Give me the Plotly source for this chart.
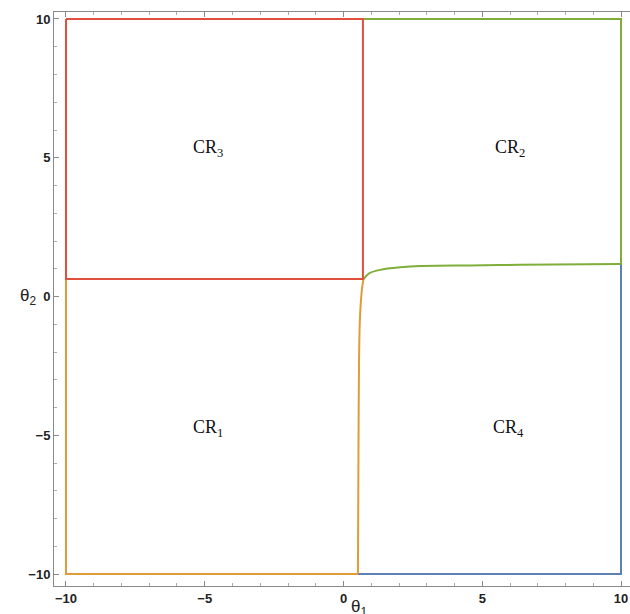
import plotly.graph_objects as go

# Region boundaries
red_x = [-10, 0.70, 0.70, -10, -10]
red_y = [10, 10, 0.63, 0.63, 10]

orange_box_x = [-10, -10, 0.52]
orange_box_y = [0.63, -10, -10]
orange_curve_x = [0.52, 0.54, 0.56, 0.59, 0.63, 0.67, 0.72]
orange_curve_y = [-10, -5.53, -2.29, -0.85, -0.13, 0.31, 0.63]

blue_x = [0.52, 10, 10]
blue_y = [-10, -10, 1.17]

green_box_x = [0.70, 10, 10]
green_box_y = [10, 10, 1.17]
green_curve_x = [0.72, 0.95, 1.32, 2.04, 2.76, 4.56, 6.36, 10]
green_curve_y = [0.63, 0.85, 0.96, 1.05, 1.10, 1.12, 1.14, 1.17]

label_text = ["CR<sub>3</sub>", "CR<sub>2</sub>", "CR<sub>1</sub>", "CR<sub>4</sub>"]
label_x = [-4.88, 6.0, -4.9, 5.96]
label_y = [5.35, 5.35, -4.74, -4.74]

tick_vals = [-10, -5, 0, 5, 10]
tick_text = ["\u221210", "\u22125", "0", "5", "10"]

RED = "#E0503C"
ORANGE = "#E19C38"
BLUE = "#5E81B5"
GREEN = "#7FAE3A"
LW = 2

fig = go.Figure()
fig.add_trace(go.Scatter(x=blue_x, y=blue_y, mode="lines", line=dict(color=BLUE, width=LW)))
fig.add_trace(go.Scatter(x=green_box_x, y=green_box_y, mode="lines", line=dict(color=GREEN, width=LW)))
fig.add_trace(go.Scatter(x=green_curve_x, y=green_curve_y, mode="lines",
                         line=dict(color=GREEN, width=LW, shape="spline", smoothing=0.8)))
fig.add_trace(go.Scatter(x=orange_box_x, y=orange_box_y, mode="lines", line=dict(color=ORANGE, width=LW)))
fig.add_trace(go.Scatter(x=orange_curve_x, y=orange_curve_y, mode="lines",
                         line=dict(color=ORANGE, width=LW, shape="spline", smoothing=0.8)))
fig.add_trace(go.Scatter(x=red_x, y=red_y, mode="lines", line=dict(color=RED, width=LW)))

for t, x, y in zip(label_text, label_x, label_y):
    fig.add_annotation(x=x, y=y, text=t, showarrow=False,
                       font=dict(family="Liberation Serif, DejaVu Serif, serif", size=18, color="#111"))

fig.add_annotation(x=0.55, y=-0.016, xref="x", yref="paper", text="\u03b8<sub>1</sub>", showarrow=False,
                   yanchor="top", font=dict(family="Liberation Sans, Arial, sans-serif", size=17, color="#222"))
fig.add_annotation(x=-0.063, y=0.0, xref="paper", yref="y", text="\u03b8<sub>2</sub>", showarrow=False,
                   font=dict(family="Liberation Sans, Arial, sans-serif", size=17, color="#222"))

axis_common = dict(
    showgrid=False, zeroline=False, showline=True, linecolor="#8a8a8a", linewidth=1,
    ticks="inside", ticklen=5, tickcolor="#8a8a8a", tickwidth=1,
    tickvals=tick_vals, ticktext=tick_text, automargin=False, ticklabeloverflow="allow",
    tickfont=dict(family="Liberation Sans, Arial, sans-serif", size=13, color="#222", weight="bold"),
    minor=dict(ticks="inside", ticklen=3, dtick=1, tickcolor="#aaaaaa", showgrid=False),
)

fig.update_layout(
    width=630, height=614,
    margin=dict(l=54, r=0, t=12, b=28),
    paper_bgcolor="white", plot_bgcolor="white",
    showlegend=False,
    xaxis=dict(range=[-10.432, 10.324], mirror="ticks", **axis_common),
    yaxis=dict(range=[-10.432, 10.252], mirror=False, **axis_common),
)

fig.write_html("out.html", config={"displayModeBar": False},
               post_script="document.body.style.margin='0';document.body.style.overflow='hidden';")
